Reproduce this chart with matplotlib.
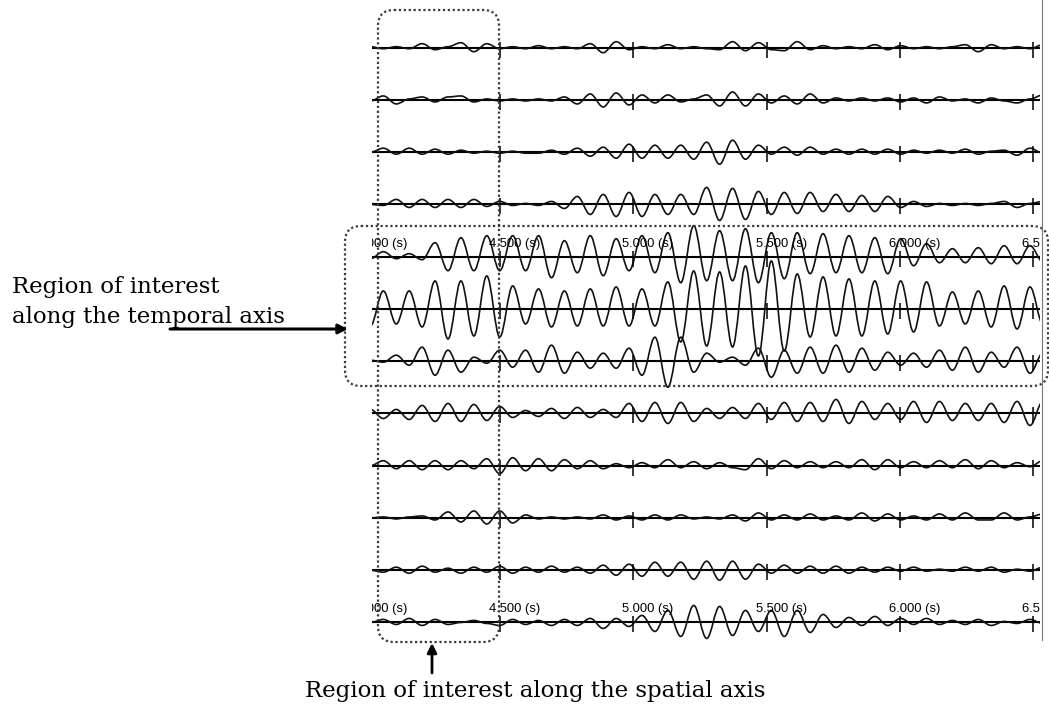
import matplotlib
matplotlib.use('Agg')
import matplotlib.pyplot as plt
from matplotlib.path import Path
from matplotlib.patches import PathPatch, FancyBboxPatch

# peak / trough heights of each trace in pixels (+ is up),
# one value per half cycle starting at T_FIRST
trace_01 = [1, -1, 1, -1, 4, -2, 1, 5, -4, 4, -1, 1, -1, 2, -1, 1, -1, 4, -5, 6, -2, 1, -1, 3, -1, 1,
            -1, -2, 6, -3, 5, -2, -3, 6, -2, 2, -1, 1, -1, 3, -2, 2, -1, 1, -1, 1, 3, -4, 3, -1, 1, -1, 3]
trace_02 = [-1, 4, -4, 1, 3, -2, 3, 4, -2, 1, -1, 1, -1, 1, -1, 3, -4, 6, -7, 7, -5, 5, -3, 5, -2, 1,
            5, -6, 8, -6, 6, -3, 4, -4, 6, -3, 2, -1, 2, -1, 2, -2, 2, -3, 3, -1, 1, -3, 2, -1, -3, 1, 5]
trace_03 = [0, 4, -2, 4, -2, 3, -2, 2, -1, 1, -1, 1, -1, -1, 2, -2, 4, -4, 5, -6, 8, -6, 7, -6, 7, -7,
            10, -12, 12, -7, 7, -2, 5, -3, 5, -2, 3, -2, 3, -2, 3, -2, 2, -1, 2, -1, 3, -2, 1, 2, -3, 4, -1]
trace_04 = [0, -1, 5, -3, 5, -3, 5, -3, 5, -2, 3, -1, 1, -1, 3, -4, 8, -10, 10, -12, 12, -12, 10, -10, 10, -10,
            17, -16, 16, -15, 13, -10, 12, -9, 12, -7, 10, -7, 9, -7, 8, -3, 3, -2, 1, -1, 1, -1, 1, 3, -3, 1, 3]
trace_05 = [-2, 5, -2, 3, -3, 14, -14, 19, -14, 21, -14, 21, -14, 21, -21, 16, -16, 21, -19, 18, -14, 21, -16, 24, -26, 31,
            -24, 26, -24, 28, -26, 24, -22, 24, -17, 23, -16, 21, -16, 19, -17, 18, -9, 13, -6, 8, -6, 9, -7, 11, -7, 11, -5]
trace_06 = [-17, 18, -15, 18, -18, 28, -30, 28, -27, 33, -28, 23, -15, 20, -18, 18, -17, 20, -17, 22, -17, 20, -17, 27, -33, 38,
            -37, 37, -38, 43, -47, 48, -42, 35, -28, 32, -27, 30, -27, 28, -25, 28, -23, 27, -17, 17, -15, 18, -18, 23, -20, 22, -15]
trace_07 = [1, -1, 6, -4, 14, -14, 11, -11, 4, -2, 11, -6, 11, -11, 16, -12, 9, -7, 8, -7, 13, -14, 24, -26, 24, -11,
            8, -1, 4, -4, 13, -16, 11, -12, 14, -12, 16, -11, 13, -9, 9, -4, 8, -6, 11, -9, 14, -11, 9, -6, 14, -12, 8]
trace_08 = [4, -5, 4, -6, 8, -8, 10, -8, 9, -7, 7, -4, 3, -3, 5, -5, 6, -4, 4, -4, 10, -8, 11, -10, 11, -8,
            5, -5, 6, -5, 10, -6, 11, -8, 11, -8, 14, -10, 12, -6, 10, -6, 12, -9, 12, -7, 10, -7, 10, -9, 12, -12, 12]
trace_09 = [0, 5, -3, 5, -4, 5, -4, 5, -3, 7, -8, 8, -5, 7, -5, 6, -3, 5, -3, 2, -2, 3, -2, 6, -2, 4,
            -3, 3, -2, -4, 7, -3, 5, -2, 4, -2, 4, -2, 6, -4, 6, -2, 4, -2, 5, -2, 6, -3, 5, -2, 3, -1, 5]
trace_10 = [0, 1, -1, 1, 2, -2, 6, -4, 7, -6, 7, -5, 3, -1, 1, -1, 1, -1, 3, -2, 2, -2, 3, -2, 3, -1,
            1, -1, 3, -3, 5, -2, 3, -2, 4, -2, 2, -2, 5, -3, 4, -2, 2, -2, 4, -2, 5, -2, -2, 5, -2, 1, 4]
trace_11 = [0, -2, 3, -3, 4, -2, 2, -3, 3, -2, 4, -3, 3, -2, 4, -2, 3, -3, 5, -5, 6, -6, 8, -6, 8, -9,
            9, -10, 9, -9, 6, -3, 5, -3, 4, -3, 4, -3, 3, -2, 3, -1, 3, -1, 1, -1, 3, -1, 3, -2, 1, -1, 3]
trace_12 = [0, 3, -2, 4, -3, 3, -2, 0, 2, -1, -3, 3, -2, 2, -3, 3, -3, 4, -6, 4, -4, 7, -9, 12, -14, 17,
            -16, 16, -13, 12, -9, 12, -14, 12, -10, 8, -5, 5, -3, 6, -3, 4, -2, 4, -2, 2, -2, 3, -3, 1, -1, 3, -1]

tick_times = [4.0, 4.5, 5.0, 5.5, 6.0, 6.5]
tick_labels = ['4.000 (s)', '4.500 (s)', '5.000 (s)', '5.500 (s)', '6.000 (s)', '6.500 (s)']
label_rows = [4, 11]   # traces that have a row of time labels above them

T_FIRST = 4.014   # time of first extremum
HALF = 0.0485     # half period of the wiggles
T_MIN, T_MAX = 4.02, 6.525

traces = [trace_01, trace_02, trace_03, trace_04, trace_05, trace_06,
          trace_07, trace_08, trace_09, trace_10, trace_11, trace_12]

# figure layout in pixels
W, H = 1049, 706
AX_L, AX_R = 372, 1040
Y0, DY = 47.7, 52.25     # first baseline, spacing between traces


def wave_path(vals, base):
    # smooth curve through the extrema, one cubic bezier per half cycle
    verts = [(T_FIRST, base + vals[0] / DY)]
    codes = [Path.MOVETO]
    for k in range(1, len(vals)):
        t0 = T_FIRST + (k - 1) * HALF
        t1 = t0 + HALF
        y0 = base + vals[k - 1] / DY
        y1 = base + vals[k] / DY
        verts += [(t0 + 0.36 * HALF, y0), (t1 - 0.36 * HALF, y1), (t1, y1)]
        codes += [Path.CURVE4] * 3
    return Path(verts, codes)


fig = plt.figure(figsize=(W / 100, H / 100), dpi=100)
fig.patch.set_facecolor('white')

ax = fig.add_axes([AX_L / W, 0, (AX_R - AX_L) / W, 1])
ax.set_xlim(T_MIN, T_MAX)
ax.set_ylim(-(H - Y0) / DY, Y0 / DY)
ax.axis('off')

for i, vals in enumerate(traces):
    base = -i
    ax.axhline(base, color='black', lw=1.5, zorder=2)
    ax.add_patch(PathPatch(wave_path(vals, base), facecolor='none',
                           edgecolor='#111111', lw=1.2, zorder=3))
    ax.vlines(tick_times, base - 10 / DY, base + 6 / DY, color='black', lw=1.1, zorder=3)

for row in label_rows:
    for t, lab in zip(tick_times, tick_labels):
        ax.annotate(lab, xy=(t, -row), xytext=(-11, 10), textcoords='offset pixels',
                    ha='left', va='baseline', fontsize=9.4, family='Liberation Sans',
                    annotation_clip=False, clip_on=True, zorder=4)

# overlay in pixel coordinates for the boxes, arrows and captions
ov = fig.add_axes([0, 0, 1, 1])
ov.set_xlim(0, W)
ov.set_ylim(H, 0)
ov.axis('off')
ov.patch.set_alpha(0)

box_style = dict(boxstyle='round,pad=0,rounding_size=16', fill=False,
                 ls=(0, (1, 1.2)), lw=1.6, ec='#3a3a3a')
ov.add_patch(FancyBboxPatch((378, 10), 121, 632, **box_style))
ov.add_patch(FancyBboxPatch((345, 226), 703, 160, **box_style))
ov.plot([1042, 1042], [0, 640], color='#777777', lw=0.8)

serif = dict(family='DejaVu Serif', fontsize=16.5, ha='left', va='baseline', color='black')
ov.text(12, 293, 'Region of interest', **serif)
ov.text(12, 323, 'along the temporal axis', **serif)
ov.text(305, 697, 'Region of interest along the spatial axis', **serif)

ov.annotate('', xy=(348, 329), xytext=(170, 329),
            arrowprops=dict(arrowstyle='-|>', lw=2.2, color='black',
                            mutation_scale=14, shrinkA=0, shrinkB=0))
ov.annotate('', xy=(432, 643), xytext=(432, 673),
            arrowprops=dict(arrowstyle='-|>', lw=2.0, color='black',
                            mutation_scale=14, shrinkA=0, shrinkB=0))

fig.savefig('out.png', dpi=100)
